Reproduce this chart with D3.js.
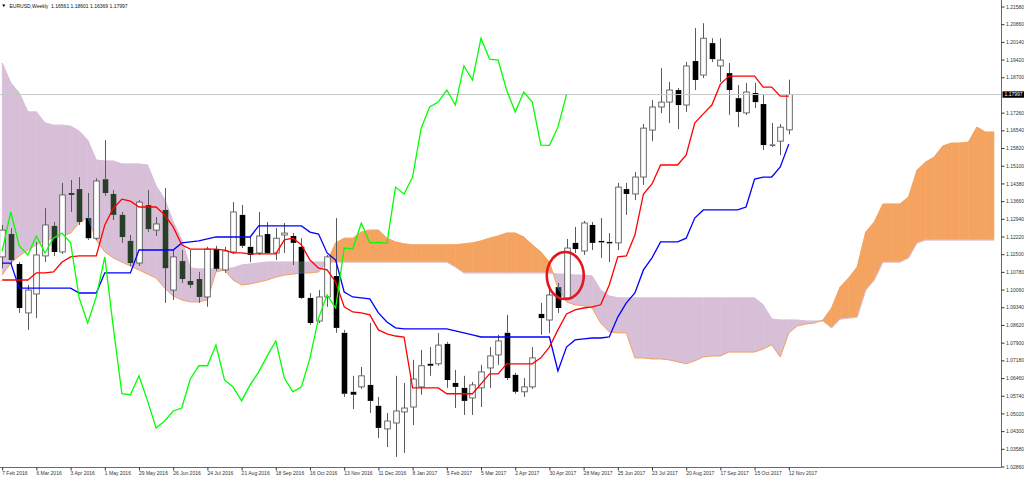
<!DOCTYPE html>
<html>
<head>
<meta charset="utf-8">
<script src="https://cdn.jsdelivr.net/npm/d3@7"></script>
<style>
  html, body { margin: 0; padding: 0; background: #fff; overflow: hidden; }
  svg { display: block; font-family: "Liberation Sans", Arial, sans-serif; }
</style>
</head>
<body>
<div id="chart"></div>
<script>
// EURUSD weekly bars, first bar = week of 7 Feb 2016
const firstWeek = "2016-02-07";

const open = [1.1139,1.1232,1.1110,1.0911,1.0988,1.1143,1.1265,1.1159,1.1399,1.1415,
  1.1297,1.1215,1.1455,1.1395,1.1310,1.1204,1.1114,1.1350,1.1248,1.1330,
  1.1004,1.1122,1.1041,1.1049,1.0976,1.1171,1.1086,1.1159,1.1310,1.1180,
  1.1155,1.1232,1.1155,1.1228,1.1224,1.1180,1.0972,1.0878,1.0976,1.1061,
  1.0830,1.0590,1.0610,1.0618,1.0533,1.0439,1.0463,1.0508,1.0528,1.0610,
  1.0704,1.0704,1.0785,1.0626,1.0606,1.0565,1.0606,1.0687,1.0740,1.0830,
  1.0659,1.0590,1.0610,1.0907,1.0882,1.1016,1.0972,1.1196,1.1163,1.1269,
  1.1204,1.1200,1.1196,1.1415,1.1395,1.1464,1.1655,1.1749,1.1769,1.1818,
  1.1757,1.1936,1.1879,1.2009,1.1916,1.1887,1.1785,1.1725,1.1806,1.1761,
  1.1596,1.1610,1.16561];
const high = [1.1269,1.1256,1.1118,1.1025,1.1200,1.1337,1.1281,1.1440,1.1452,1.1464,
  1.1399,1.1459,1.1614,1.1411,1.1322,1.1228,1.1370,1.1411,1.1301,1.1419,
  1.1167,1.1167,1.1167,1.1078,1.1180,1.1184,1.1180,1.1362,1.1350,1.1220,
  1.1322,1.1281,1.1256,1.1277,1.1236,1.1215,1.0992,1.1004,1.1147,1.1297,
  1.0842,1.0655,1.0691,1.0870,1.0569,1.0504,1.0655,1.0626,1.0720,1.0760,
  1.0772,1.0830,1.0793,1.0679,1.0655,1.0630,1.0700,1.0772,1.0822,1.0903,
  1.0667,1.0646,1.0772,1.0952,1.1012,1.1033,1.1212,1.1261,1.1285,1.1281,
  1.1297,1.1236,1.1440,1.1440,1.1484,1.1680,1.1777,1.1907,1.1851,1.1826,
  1.1932,1.2070,1.2090,1.2029,1.2029,1.1928,1.1838,1.1847,1.1847,1.1798,
  1.1684,1.1680,1.18601];
const low = [1.1093,1.1110,1.0911,1.0842,1.0890,1.1118,1.1143,1.1151,1.1322,1.1269,
  1.1208,1.1208,1.1387,1.1289,1.1196,1.1102,1.1102,1.1240,1.1224,1.0952,
  1.0964,1.1033,1.1012,1.0952,1.0936,1.1082,1.1074,1.1151,1.1175,1.1118,
  1.1147,1.1151,1.1126,1.1155,1.1106,1.0968,1.0862,1.0870,1.0936,1.0830,
  1.0569,1.0520,1.0602,1.0504,1.0402,1.0365,1.0325,1.0341,1.0455,1.0578,
  1.0655,1.0696,1.0606,1.0524,1.0496,1.0496,1.0528,1.0606,1.0700,1.0638,
  1.0582,1.0569,1.0602,1.0822,1.0830,1.0911,1.0964,1.1155,1.1147,1.1167,
  1.1135,1.1118,1.1167,1.1310,1.1370,1.1432,1.1610,1.1724,1.1684,1.1659,
  1.1729,1.1818,1.1867,1.1932,1.1851,1.1717,1.1667,1.1717,1.1745,1.1574,
  1.1586,1.1553,1.16369];
const close = [1.1248,1.1126,1.0931,1.1004,1.1147,1.1269,1.1159,1.1391,1.1391,1.1281,
  1.1215,1.1448,1.1399,1.1310,1.1220,1.1114,1.1362,1.1252,1.1273,1.1093,
  1.1139,1.1049,1.1025,1.0976,1.1171,1.1090,1.1163,1.1322,1.1184,1.1147,
  1.1224,1.1155,1.1215,1.1236,1.1196,1.0972,1.0870,1.0976,1.1139,1.0850,
  1.0582,1.0578,1.0655,1.0553,1.0443,1.0471,1.0512,1.0524,1.0642,1.0696,
  1.0696,1.0780,1.0638,1.0610,1.0553,1.0618,1.0671,1.0736,1.0797,1.0646,
  1.0590,1.0610,1.0728,1.0890,1.0984,1.0931,1.1175,1.1171,1.1277,1.1196,
  1.1198,1.1194,1.1423,1.1395,1.1464,1.1663,1.1749,1.1769,1.1818,1.1757,
  1.1916,1.1859,1.2029,1.1944,1.1940,1.1818,1.1729,1.1810,1.1769,1.1594,
  1.1593,1.1667,1.17997];

// Ichimoku lines (Tenkan-sen red, Kijun-sen blue), one value per bar
const tenkan = [1.1045,1.1045,1.1045,1.1045,1.1074,1.1074,1.1078,1.1118,1.1139,1.1143,
  1.1143,1.1143,1.1269,1.1337,1.1374,1.1366,1.1342,1.1342,1.1342,1.1310,
  1.1261,1.1188,1.1171,1.1171,1.1171,1.1171,1.1167,1.1155,1.1155,1.1151,
  1.1151,1.1151,1.1151,1.1208,1.1215,1.1188,1.1126,1.1093,1.1086,1.1037,
  1.0936,1.0915,1.0911,1.0903,1.0842,1.0826,1.0817,1.0813,1.0606,1.0606,
  1.0606,1.0606,1.0582,1.0582,1.0582,1.0582,1.0622,1.0663,1.0663,1.0704,
  1.0704,1.0704,1.0704,1.0728,1.0772,1.0842,1.0907,1.0923,1.0931,1.0936,
  1.0944,1.1025,1.1139,1.1143,1.1228,1.1395,1.1436,1.1513,1.1513,1.1513,
  1.1554,1.1684,1.1721,1.1757,1.1842,1.1875,1.1875,1.1875,1.1875,1.1830,
  1.1830,1.1793,1.1793];
const kijun = [1.1114,1.1114,1.1012,1.1012,1.1012,1.1012,1.1012,1.1012,1.1012,1.0992,
  1.0992,1.0992,1.1074,1.1074,1.1074,1.1074,1.1167,1.1167,1.1167,1.1167,
  1.1167,1.1196,1.1200,1.1204,1.1212,1.1220,1.1220,1.1220,1.1220,1.1220,
  1.1265,1.1265,1.1265,1.1265,1.1265,1.1265,1.1240,1.1232,1.1155,1.1126,
  1.0996,1.0976,1.0972,1.0968,1.0911,1.0874,1.0850,1.0846,1.0846,1.0846,
  1.0846,1.0846,1.0846,1.0838,1.0830,1.0822,1.0813,1.0813,1.0813,1.0813,
  1.0813,1.0813,1.0813,1.0813,1.0813,1.0675,1.0772,1.0801,1.0805,1.0809,
  1.0809,1.0813,1.0894,1.0952,1.0992,1.1086,1.1135,1.1200,1.1200,1.1200,
  1.1215,1.1297,1.1330,1.1330,1.1330,1.1330,1.1330,1.1342,1.1456,1.1464,
  1.1464,1.1505,1.1598];

// Senkou spans A and B, as plotted (run 24 weeks past the last bar)
const spanA = [1.1065,1.1114,1.1143,1.1167,1.1188,1.1208,1.1215,1.1224,1.1236,1.1277,
  1.1301,1.1208,1.1159,1.1135,1.1118,1.1102,1.1086,1.1069,1.1053,1.1012,
  1.0980,1.0964,1.0956,1.0956,1.0964,1.1078,1.1086,1.1045,1.1025,1.1029,
  1.1037,1.1045,1.1057,1.1065,1.1069,1.1074,1.1074,1.1078,1.1118,1.1196,
  1.1215,1.1215,1.1240,1.1248,1.1248,1.1215,1.1200,1.1192,1.1188,1.1188,
  1.1188,1.1188,1.1188,1.1188,1.1192,1.1196,1.1204,1.1215,1.1224,1.1236,
  1.1236,1.1220,1.1188,1.1159,1.1118,1.1012,1.0956,1.0944,1.0940,1.0931,
  1.0870,1.0834,1.0830,1.0830,1.0728,1.0728,1.0724,1.0724,1.0720,1.0712,
  1.0704,1.0716,1.0732,1.0736,1.0736,1.0752,1.0752,1.0752,1.0752,1.0764,
  1.0781,1.0732,1.0830,1.0858,1.0866,1.0870,1.0882,1.0931,1.1016,1.1053,
  1.1098,1.1240,1.1281,1.1354,1.1354,1.1354,1.1383,1.1492,1.1525,1.1545,
  1.1590,1.1602,1.1602,1.1606,1.1667,1.1647,1.1647];
const spanB = [1.1928,1.1847,1.1806,1.1729,1.1729,1.1684,1.1675,1.1675,1.1671,1.1651,
  1.1614,1.1533,1.1529,1.1529,1.1517,1.1517,1.1517,1.1513,1.1428,1.1374,
  1.1281,1.1208,1.1094,1.1090,1.1090,1.1090,1.1090,1.1094,1.1106,1.1110,
  1.1114,1.1118,1.1118,1.1118,1.1118,1.1118,1.1118,1.1118,1.1118,1.1118,
  1.1118,1.1118,1.1118,1.1118,1.1118,1.1118,1.1118,1.1118,1.1118,1.1118,
  1.1118,1.1118,1.1118,1.1098,1.1074,1.1074,1.1074,1.1074,1.1074,1.1074,
  1.1074,1.1074,1.1074,1.1074,1.1074,1.1069,1.1069,1.1065,1.1065,1.1061,
  1.1004,1.0980,1.0972,1.0972,1.0972,1.0972,1.0972,1.0972,1.0972,1.0972,
  1.0972,1.0972,1.0972,1.0972,1.0972,1.0972,1.0972,1.0972,1.0972,1.0944,
  1.0886,1.0882,1.0882,1.0882,1.0878,1.0878,1.0878,1.0850,1.0886,1.0890,
  1.0894,1.1004,1.1045,1.1118,1.1118,1.1118,1.1135,1.1196,1.1208,1.1208,
  1.1208,1.1208,1.1208,1.1208,1.1208,1.1208,1.1208];

const priceTicks = [1.21580,1.20860,1.20140,1.19420,1.18700,1.17260,1.16540,1.15820,1.15100,
  1.14380,1.13660,1.12940,1.12220,1.11500,1.10780,1.10060,1.09340,1.08620,1.07900,1.07180,
  1.06460,1.05740,1.05020,1.04300,1.03580,1.02860];
const dateTicks = ["7 Feb 2016","6 Mar 2016","3 Apr 2016","1 May 2016","29 May 2016","26 Jun 2016",
  "24 Jul 2016","21 Aug 2016","18 Sep 2016","16 Oct 2016","13 Nov 2016","11 Dec 2016","8 Jan 2017",
  "5 Feb 2017","5 Mar 2017","2 Apr 2017","30 Apr 2017","28 May 2017","25 Jun 2017","23 Jul 2017",
  "20 Aug 2017","17 Sep 2017","15 Oct 2017","12 Nov 2017"];

const lastPrice = 1.17997;
const header = "EURUSD,Weekly  1.16561 1.18601 1.16369 1.17997";
const circled = { date: "2017-05-13", price: 1.1063 };

// ---- setup
const W = 1024, H = 479;
const plotRight = 1001.5, plotBottom = 467.5;

const svg = d3.select("#chart").append("svg").attr("width", W).attr("height", H);
svg.append("rect").attr("width", W).attr("height", H).attr("fill", "#fff");

svg.append("clipPath").attr("id", "plot")
  .append("rect").attr("x", 0).attr("y", 0).attr("width", plotRight).attr("height", plotBottom);

const start = d3.utcParse("%Y-%m-%d")(firstWeek);
const weekDate = i => d3.utcWeek.offset(start, i);

const x = d3.scaleUtc()
  .domain([weekDate(0), weekDate(spanA.length - 1)])
  .range([2.2, 2.2 + 8.55 * (spanA.length - 1)]);
const y = d3.scaleLinear().domain([1.02860, 1.21580]).range([466.5, 6.5]);

const plot = svg.append("g").attr("clip-path", "url(#plot)");
// the clipped group is its own blending context, so it gets its own white ground
plot.append("rect").attr("width", plotRight).attr("height", plotBottom).attr("fill", "#fff");

// ---- kumo (cloud): sandybrown where A is above B, thistle where B is above A
const orange = "#f4a460", thistle = "#d8bfd8";
const cloud = plot.append("g");
function patch(pts, col) {
  cloud.append("path")
    .attr("d", "M" + pts.map(p => p.join(",")).join("L") + "Z")
    .attr("fill", col).attr("stroke", col).attr("stroke-width", 0.6);
}
for (let i = 0; i < spanA.length - 1; i++) {
  const x0 = x(weekDate(i)), x1 = x(weekDate(i + 1));
  const a0 = spanA[i], b0 = spanB[i], a1 = spanA[i + 1], b1 = spanB[i + 1];
  const d0 = a0 - b0, d1 = a1 - b1;
  if (d0 * d1 >= 0) {
    patch([[x0, y(a0)], [x1, y(a1)], [x1, y(b1)], [x0, y(b0)]], d0 + d1 >= 0 ? orange : thistle);
  } else {
    const t = d0 / (d0 - d1);
    const xc = x0 + t * (x1 - x0), yc = y(a0 + t * (a1 - a0));
    patch([[x0, y(a0)], [xc, yc], [x0, y(b0)]], d0 > 0 ? orange : thistle);
    patch([[xc, yc], [x1, y(a1)], [x1, y(b1)]], d1 > 0 ? orange : thistle);
  }
}

const line = d3.line().x(d => x(d.date)).y(d => y(d.price));
const series = arr => arr.map((v, i) => ({ date: weekDate(i), price: v }));

plot.append("path").datum(series(spanB)).attr("d", line)
  .attr("fill", "none").attr("stroke", thistle).attr("stroke-width", 1);
plot.append("path").datum(series(spanA)).attr("d", line)
  .attr("fill", "none").attr("stroke", orange).attr("stroke-width", 1);

// ---- candles
const bars = open.map((o, i) => ({ date: weekDate(i), o, h: high[i], l: low[i], c: close[i] }));
const candles = plot.append("g");
const bw = 5.6;
bars.forEach(b => {
  const cx = Math.round(x(b.date)) + 0.5;
  const top = y(Math.max(b.o, b.c)), bot = y(Math.min(b.o, b.c));
  const hgt = Math.max(bot - top, 1);
  candles.append("line").attr("x1", cx).attr("x2", cx).attr("y1", y(b.h)).attr("y2", top)
    .attr("stroke", "#5a5a5a").attr("stroke-width", 1);
  candles.append("line").attr("x1", cx).attr("x2", cx).attr("y1", top + hgt).attr("y2", y(b.l))
    .attr("stroke", "#5a5a5a").attr("stroke-width", 1);
  const body = candles.append("rect")
    .attr("x", cx - bw / 2).attr("y", top).attr("width", bw).attr("height", hgt);
  if (b.c >= b.o) {
    body.attr("fill", "#fff").attr("stroke", "#5a5a5a").attr("stroke-width", 0.9);
  } else {
    // bear bodies invert what is under them: black on white, dark green on the cloud
    body.attr("fill", "#fff").style("mix-blend-mode", "difference");
  }
});

// current price line
plot.append("line").attr("x1", 0).attr("x2", plotRight)
  .attr("y1", y(lastPrice)).attr("y2", y(lastPrice))
  .attr("stroke", "#c8c8c8").attr("stroke-width", 1);

// Kijun, Tenkan, Chikou (close shifted back 26 bars)
plot.append("path").datum(series(kijun)).attr("d", line)
  .attr("fill", "none").attr("stroke", "#0000ff").attr("stroke-width", 1.3);
plot.append("path").datum(series(tenkan)).attr("d", line)
  .attr("fill", "none").attr("stroke", "#ff0000").attr("stroke-width", 1.3);
plot.append("path").datum(series(close.slice(26))).attr("d", line)
  .attr("fill", "none").attr("stroke", "#00ff00").attr("stroke-width", 1.3);

// annotation circle
plot.append("ellipse")
  .attr("cx", x(d3.utcParse("%Y-%m-%d")(circled.date))).attr("cy", y(circled.price))
  .attr("rx", 18.5).attr("ry", 23.5)
  .attr("fill", "none").attr("stroke", "#e3161e").attr("stroke-width", 2.6);

// ---- axes
svg.append("line").attr("x1", plotRight).attr("x2", plotRight).attr("y1", 0).attr("y2", plotBottom)
  .attr("stroke", "#6a6a6a");
svg.append("line").attr("x1", 0).attr("x2", plotRight).attr("y1", plotBottom).attr("y2", plotBottom)
  .attr("stroke", "#6a6a6a");

const gy = svg.append("g").attr("transform", `translate(${plotRight},0)`)
  .call(d3.axisRight(y).tickValues(priceTicks).tickSize(3).tickPadding(1.5).tickFormat(d3.format(".5f")));
gy.select(".domain").remove();
gy.attr("font-size", 5).attr("font-family", "Liberation Sans, Arial, sans-serif").attr("color", "#333");

const parseTick = d3.utcParse("%d %b %Y");
const gx = svg.append("g").attr("transform", `translate(0,${plotBottom})`)
  .call(d3.axisBottom(x).tickValues(dateTicks.map(parseTick)).tickSize(3).tickPadding(1.2)
    .tickFormat((d, i) => dateTicks[i]));
gx.select(".domain").remove();
gx.attr("font-size", 5).attr("font-family", "Liberation Sans, Arial, sans-serif").attr("color", "#333");
gx.selectAll("text").attr("text-anchor", "start").attr("x", -0.5);

// last price tag
svg.append("rect").attr("x", plotRight + 1).attr("y", y(lastPrice) - 3.2)
  .attr("width", W - plotRight - 1).attr("height", 6.4).attr("fill", "#000");
svg.append("text").attr("x", plotRight + 3).attr("y", y(lastPrice) + 1.8)
  .attr("font-size", 5).attr("fill", "#fff").text(d3.format(".5f")(lastPrice));

// header
svg.append("path").attr("d", "M2.2,4.6L5.4,4.6L3.8,7Z").attr("fill", "#000");
svg.append("text").attr("x", 9.5).attr("y", 8).attr("font-size", 5).attr("fill", "#111")
  .attr("xml:space", "preserve").style("white-space", "pre").text(header);
</script>
</body>
</html>
